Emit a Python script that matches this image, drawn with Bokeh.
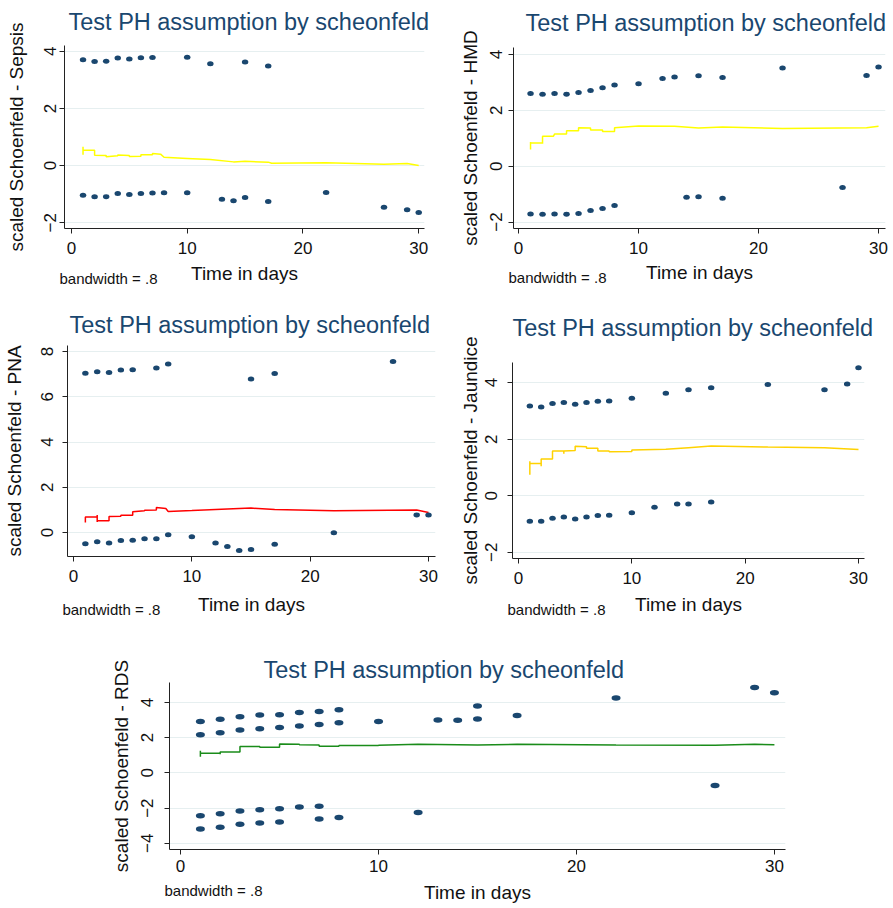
from bokeh.plotting import figure
from bokeh.layouts import column, row, Spacer
from bokeh.models import FixedTicker, Range1d, ColumnDataSource, LinearAxis
from bokeh.embed import file_html
from bokeh.resources import INLINE

FONT = "Liberation Sans"
NAVY = "#1a476f"

TITLE = "Test PH assumption by scheonfeld"
XLABEL = "Time in days"
NOTE = "bandwidth = .8"
X_TICKS = [0, 10, 20, 30]

# ---------------- Sepsis ----------------
sepsis_t = [1, 2, 3, 4, 5, 6, 7, 10, 12, 15, 17,
            1, 2, 3, 4, 5, 6, 7, 8, 10, 13, 14, 15, 17, 22, 27, 29, 30]
sepsis_r = [3.70, 3.64, 3.65, 3.76, 3.73, 3.77, 3.78, 3.79, 3.56, 3.62, 3.48,
            -1.04, -1.09, -1.09, -0.98, -1.01, -0.98, -0.96, -0.95, -0.95, -1.18, -1.23, -1.12, -1.26, -0.94, -1.46, -1.54, -1.64]
sepsis_lx = [1, 1, 1, 2, 2, 3, 3, 4, 4, 5, 5, 6, 6, 7, 7, 7.7, 8, 10, 12, 14, 15, 17, 17.3, 22, 27, 29, 30]
sepsis_ly = [0.66, 0.38, 0.54, 0.54, 0.36, 0.35, 0.31, 0.34, 0.37, 0.35, 0.32, 0.33, 0.38, 0.38, 0.42, 0.40, 0.29, 0.25, 0.21, 0.13, 0.15, 0.12, 0.08, 0.10, 0.05, 0.07, 0.0]
sepsis_yticks = [-2, 0, 2, 4]

# ---------------- HMD ----------------
hmd_t = [1, 2, 3, 4, 5, 6, 7, 8, 10, 12, 13, 15, 17, 22, 29, 30,
         1, 2, 3, 4, 5, 6, 7, 8, 14, 15, 17, 27]
hmd_r = [2.60, 2.58, 2.60, 2.58, 2.64, 2.71, 2.81, 2.91, 2.95, 3.14, 3.19, 3.24, 3.18, 3.52, 3.25, 3.55,
         -1.71, -1.72, -1.71, -1.72, -1.69, -1.59, -1.51, -1.41, -1.11, -1.09, -1.15, -0.76]
hmd_lx = [1, 1, 1, 2, 2, 2, 2.9, 3, 4, 4, 5, 5, 6, 6, 7, 7, 8, 8, 10, 13, 15, 17, 22, 29, 30]
hmd_ly = [0.60, 0.87, 0.83, 0.83, 0.80, 1.07, 1.07, 1.15, 1.15, 1.27, 1.27, 1.38, 1.37, 1.30, 1.30, 1.24, 1.24, 1.38, 1.44, 1.43, 1.37, 1.40, 1.35, 1.38, 1.43]
hmd_yticks = [-2, 0, 2, 4]

# ---------------- PNA ----------------
pna_t = [1, 2, 3, 4, 5, 7, 8, 15, 17, 27,
         1, 2, 3, 4, 5, 6, 7, 8, 10, 12, 13, 14, 15, 17, 22, 29, 30]
pna_r = [7.04, 7.11, 7.08, 7.19, 7.20, 7.28, 7.45, 6.79, 7.03, 7.56,
         -0.50, -0.41, -0.46, -0.35, -0.34, -0.28, -0.28, -0.10, -0.19, -0.46, -0.62, -0.80, -0.75, -0.52, -0.01, 0.78, 0.78]
pna_lx = [1, 1, 2, 2, 2, 2, 3, 3, 4, 4, 5, 5, 6, 6, 7, 7, 7.8, 8, 10, 15, 17, 22, 29, 30]
pna_ly = [0.44, 0.69, 0.69, 0.77, 0.47, 0.52, 0.52, 0.71, 0.72, 0.76, 0.76, 0.92, 0.96, 0.99, 1.00, 1.11, 1.06, 0.93, 0.97, 1.08, 1.02, 0.96, 1.00, 0.89]
pna_yticks = [0, 2, 4, 6, 8]

# ---------------- Jaundice ----------------
jaun_t = [1, 2, 3, 4, 5, 6, 7, 8, 10, 13, 15, 17, 22, 27, 29, 30,
          1, 2, 3, 4, 5, 6, 7, 8, 10, 12, 14, 15, 17]
jaun_r = [3.17, 3.14, 3.26, 3.30, 3.23, 3.30, 3.34, 3.35, 3.45, 3.62, 3.75, 3.82, 3.93, 3.75, 3.95, 4.52,
          -0.90, -0.90, -0.80, -0.75, -0.82, -0.75, -0.70, -0.69, -0.60, -0.41, -0.29, -0.29, -0.22]
jaun_lx = [1, 1, 1, 2, 2, 2, 3, 3, 4, 4, 4, 5, 5, 6, 6, 7, 7, 8, 8, 10, 10, 13, 15, 17, 22, 27, 30]
jaun_ly = [0.74, 1.22, 1.14, 1.14, 1.04, 1.30, 1.30, 1.58, 1.58, 1.48, 1.58, 1.60, 1.75, 1.73, 1.68, 1.68, 1.58, 1.58, 1.55, 1.56, 1.62, 1.64, 1.70, 1.76, 1.72, 1.70, 1.63]
jaun_yticks = [-2, 0, 2, 4]

# ---------------- RDS ----------------
rds_t = [1, 2, 3, 4, 5, 6, 7, 8, 10, 13, 14, 15, 15, 17, 22, 29, 30,
         1, 2, 3, 4, 5, 6, 7, 8,
         1, 2, 3, 4, 5, 6, 7,
         1, 2, 3, 4, 5, 7, 8, 12, 27]
rds_r = [2.92, 3.04, 3.19, 3.28, 3.30, 3.42, 3.49, 3.58, 2.92, 3.00, 2.98, 3.79, 3.06, 3.26, 4.25, 4.85, 4.55,
         2.17, 2.28, 2.43, 2.51, 2.57, 2.66, 2.74, 2.85,
         -2.43, -2.32, -2.17, -2.09, -2.04, -1.94, -1.89,
         -3.19, -3.08, -2.92, -2.85, -2.79, -2.62, -2.53, -2.25, -0.72]
rds_lx = [1, 1, 1, 2, 2, 2, 3, 3, 4, 4, 5, 5, 6, 6, 7, 7, 8, 8, 10, 10, 12, 15, 17, 22, 27, 29, 30]
rds_ly = [0.92, 1.26, 1.11, 1.11, 1.06, 1.19, 1.19, 1.49, 1.49, 1.45, 1.45, 1.64, 1.62, 1.60, 1.58, 1.51, 1.51, 1.55, 1.55, 1.57, 1.62, 1.58, 1.62, 1.58, 1.57, 1.62, 1.60]
rds_yticks = [-4, -2, 0, 2, 4]


def style_text_axis(ax, tick_size="17px"):
    ax.major_label_text_font = FONT
    ax.major_label_text_font_size = tick_size
    ax.major_label_text_color = "#111111"
    ax.axis_label_text_font = FONT
    ax.axis_label_text_font_size = "19px"
    ax.axis_label_text_font_style = "normal"
    ax.axis_label_text_color = "#111111"


def panel(t, r, lx, ly, yticks, ylabel, line_color, xr, yr, width, height,
          bl, br, bt, bb, title_valign, title_standoff, title_offset, dot_w, dot_h,
          ytick_so, ylabel_so, xtick_so, note_so, xlabel_so, note_px=44):
    p = figure(width=width, height=height, output_backend="svg", toolbar_location=None,
               x_range=Range1d(*xr), y_range=Range1d(*yr),
               min_border_left=bl, min_border_right=br, min_border_top=bt, min_border_bottom=bb)
    p.title.text = TITLE
    p.title.text_font = FONT
    p.title.text_font_size = "23.5px"
    p.title.text_font_style = "normal"
    p.title.text_color = NAVY
    p.title.align = "left"
    p.title.vertical_align = title_valign
    p.title.standoff = title_standoff
    p.title.offset = title_offset
    p.outline_line_color = None
    p.background_fill_color = "white"
    p.border_fill_color = "white"

    p.xgrid.grid_line_color = None
    p.ygrid.grid_line_color = "#e6eff0"
    p.ygrid.grid_line_width = 1.2

    xa = p.xaxis[0]
    ya = p.yaxis[0]
    xa.ticker = FixedTicker(ticks=X_TICKS)
    ya.ticker = FixedTicker(ticks=yticks)
    for ax in (xa, ya):
        ax.axis_line_color = "#222222"
        ax.axis_line_width = 1
        ax.major_tick_line_color = "#222222"
        ax.major_tick_out = 5
        ax.major_tick_in = 0
        ax.minor_tick_line_color = None
        style_text_axis(ax)
    ya.major_label_orientation = "vertical"
    ya.axis_label = ylabel
    ya.major_label_standoff = ytick_so
    ya.axis_label_standoff = ylabel_so
    xa.major_label_standoff = xtick_so

    # second, line-less axis below the first: carries the note and the x title
    frame_w = width - bl - br
    note_tick = round(xr[0] + note_px * (xr[1] - xr[0]) / frame_w, 4)
    na = LinearAxis(ticker=FixedTicker(ticks=[note_tick]),
                    major_label_overrides={note_tick: NOTE},
                    axis_label=XLABEL)
    na.axis_line_color = None
    na.major_tick_line_color = None
    na.minor_tick_line_color = None
    na.major_tick_out = 0
    na.major_tick_in = 0
    na.minor_tick_out = 0
    na.minor_tick_in = 0
    style_text_axis(na, tick_size="15px")
    na.major_label_standoff = note_so
    na.axis_label_standoff = xlabel_so
    p.add_layout(na, "below")

    p.line(lx, ly, line_color=line_color, line_width=1.5)
    src = ColumnDataSource(dict(t=t, r=r))
    p.ellipse(x="t", y="r", width=dot_w, height=dot_h, width_units="screen", height_units="screen",
              source=src, fill_color=NAVY, line_color=None)
    return p


p1 = panel(sepsis_t, sepsis_r, sepsis_lx, sepsis_ly, sepsis_yticks, "scaled Schoenfeld - Sepsis",
           "#ffff00", (-0.6, 30.5), (-2.2, 4.2), 440, 290, 64, 16, 43, 62, "top", 17, 4, 6.5, 5,
           4, 14, 8, 13, -27)
p2 = panel(hmd_t, hmd_r, hmd_lx, hmd_ly, hmd_yticks, "scaled Schoenfeld - HMD",
           "#ffff00", (-0.42, 30.58), (-2.23, 4.25), 453, 290, 73, 8, 45, 62, "top", 19, 12, 6.5, 5,
           6, 7, 8, 12, -27)
p3 = panel(pna_t, pna_r, pna_lx, pna_ly, pna_yticks, "scaled Schoenfeld - PNA",
           "#ff0000", (-0.51, 30.59), (-1.06, 8.27), 440, 330, 66, 5, 55, 64, "bottom", 15, 2, 6.5, 5,
           9, 14, 8, 16, -27)
p4 = panel(jaun_t, jaun_r, jaun_lx, jaun_ly, jaun_yticks, "scaled Schoenfeld - Jaundice",
           "#ffd200", (-0.53, 30.53), (-2.22, 4.71), 453, 330, 72, 29, 72, 62, "bottom", 44, 0, 6.5, 5,
           10, 2, 8, 14, -27)
p5 = panel(rds_t, rds_r, rds_lx, rds_ly, rds_yticks, "scaled Schoenfeld - RDS",
           "#1a8c1a", (-0.56, 30.56), (-4.35, 5.13), 700, 287, 69, 15, 62, 58, "bottom", 0, 94, 9, 5.5,
           11, 7, 5, 7, -20)

layout = column(row(column(p1), column(p2)),
                row(column(p3), column(p4)),
                row(Spacer(width=100, height=287), column(p5)))

open("out.html", "w").write(file_html(layout, INLINE))
